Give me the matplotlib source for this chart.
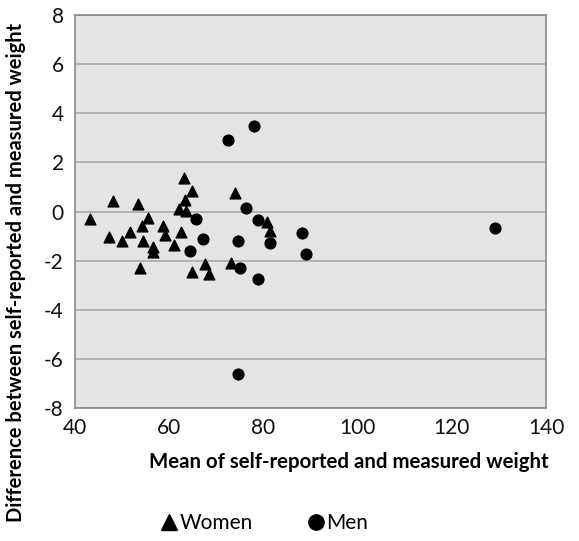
import numpy as np
import matplotlib.pyplot as plt
from matplotlib.lines import Line2D

# Data (mean weight, difference)

women_mean = [43.2, 48.0, 47.2, 49.9, 51.7, 53.4, 54.5, 54.3, 55.6, 56.5,
              56.5, 53.7, 58.6, 59.1, 61.1, 62.6, 63.2, 64.8, 63.4, 62.0,
              63.5, 64.9, 67.7, 68.5, 73.1, 74.0, 80.7, 81.5]
women_diff = [-0.32, 0.44, -1.03, -1.19, -0.82, 0.32, -1.20, -0.59, -0.28, -1.46,
              -1.65, -2.31, -0.58, -0.96, -1.36, -0.85, 1.35, 0.83, 0.47, 0.09,
              0.02, -2.45, -2.14, -2.56, -2.11, 0.77, -0.41, -0.79]

men_mean = [65.6, 67.2, 64.4, 76.4, 74.7, 78.9, 81.3, 88.3, 89.1, 75.0,
            78.9, 72.4, 78.1, 74.6, 129.2]
men_diff = [-0.31, -1.13, -1.61, 0.13, -1.19, -0.36, -1.27, -0.86, -1.74, -2.31,
            -2.76, 2.91, 3.48, -6.62, -0.68]

xticks = [40, 60, 80, 100, 120, 140]
yticks = [-8, -6, -4, -2, 0, 2, 4, 6, 8]

plt.rcParams['font.family'] = ['Lato', 'DejaVu Sans']
plt.rcParams['axes.unicode_minus'] = False

fig = plt.figure(figsize=(5.79, 5.41), dpi=100)
ax = fig.add_axes([0.1295, 0.2458, 0.8135, 0.7265])
ax.set_facecolor("#e4e4e4")

ax.scatter(women_mean, women_diff, marker="^", s=60, color="black", zorder=3)
ax.scatter(men_mean, men_diff, marker="o", s=60, color="black", zorder=3)

ax.set_xlim(40, 140)
ax.set_ylim(-8, 8)
ax.set_xticks(xticks)
ax.set_yticks(yticks)
ax.tick_params(length=0, labelsize=15, colors="#111111")
ax.tick_params(axis="x", pad=7)
ax.tick_params(axis="y", pad=8)
ax.grid(axis="y", color="#a8a8a8", linewidth=1.2)
ax.set_axisbelow(True)
for s in ax.spines.values():
    s.set_color("#8a8a8a")
    s.set_linewidth(1.2)

fig.text(0.947, 0.146, "Mean of self-reported and measured weight",
         ha="right", va="center", fontsize=14.7, fontweight="bold")
fig.text(0.028, 0.497, "Difference between self-reported and measured weight",
         ha="center", va="center", rotation=90, fontsize=14.5, fontweight="bold")

handles = [Line2D([], [], marker="^", color="black", linestyle="none", markersize=11),
           Line2D([], [], marker="o", color="black", linestyle="none", markersize=11)]
fig.legend(handles, ["Women", "Men"], loc="center", bbox_to_anchor=(0.455, 0.033),
           ncol=2, frameon=False, handletextpad=0.0,
           columnspacing=2.5, handlelength=1.0, prop={"size": 15})

fig.savefig("out.png", dpi=100)
